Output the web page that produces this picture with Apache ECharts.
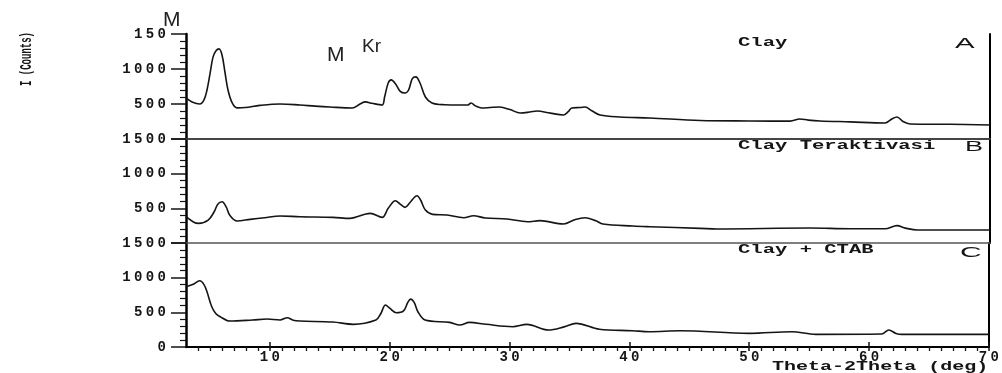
<!DOCTYPE html>
<html><head><meta charset="utf-8">
<script src="https://cdn.jsdelivr.net/npm/echarts@6/dist/echarts.min.js"></script>
<style>html,body{margin:0;padding:0;background:#fff}#c{width:1002px;height:373px}</style>
</head><body><div id="c"></div>
<script>
// 2-theta (deg) / intensity (counts) pairs
const clayA = [[3,586],[3.5,530],[4.15,500],[4.5,560],[4.75,700],[5,930],[5.25,1170],[5.5,1260],[5.75,1287],[6,1200],[6.25,950],[6.5,700],[6.85,515],[7.25,445],[7.95,450],[9.15,480],[10.85,500],[12.5,486],[13.75,470],[15,457],[16.85,443],[17.5,500],[17.95,530],[18.5,510],[19.35,486],[19.55,600],[19.85,800],[20.1,844],[20.45,790],[20.85,680],[21.25,657],[21.55,700],[21.85,860],[22.15,887],[22.5,800],[22.95,600],[23.5,515],[24.55,490],[25.85,486],[26.5,486],[26.75,515],[27.15,470],[27.65,443],[28.35,450],[29.15,457],[30,420],[30.85,372],[31.65,385],[32.25,400],[33.35,370],[34.45,343],[34.85,390],[35.15,443],[35.85,450],[36.25,457],[36.85,400],[37.5,343],[39.15,315],[41.65,300],[45.85,265],[50,258],[53.35,255],[54.15,286],[54.85,270],[55.85,258],[58.35,245],[61.25,229],[61.85,290],[62.25,315],[62.75,250],[63.35,215],[66.65,210],[70,200]];
const clayB = [[3,379],[3.65,300],[4.05,283],[4.85,330],[5.35,451],[5.65,560],[6,595],[6.35,520],[6.65,399],[7.25,317],[8.35,341],[9.55,365],[10.85,389],[12.5,379],[15.25,370],[16.65,355],[18.35,427],[19.35,370],[19.85,500],[20.45,609],[20.85,560],[21.25,514],[21.65,580],[22.25,681],[22.55,620],[22.95,475],[23.55,413],[24.75,403],[26.15,365],[26.95,394],[27.95,360],[29.75,346],[31.45,307],[32.5,322],[34.45,274],[35.45,340],[36.25,365],[37.15,320],[37.75,274],[40.25,245],[41.65,235],[45.85,211],[47.25,202],[55,216],[58.35,205],[61.25,205],[62.25,250],[62.95,215],[63.95,187],[70,187]];
const clayC = [[3,869],[3.55,900],[4.15,955],[4.5,900],[4.75,797],[5.15,581],[5.5,480],[5.85,437],[6.65,374],[8.55,389],[9.75,403],[10.85,390],[11.45,422],[11.95,385],[12.5,374],[15.25,360],[16.95,327],[18.85,389],[19.25,480],[19.65,605],[20,560],[20.55,494],[21.15,520],[21.5,640],[21.75,691],[22.05,640],[22.35,509],[22.95,389],[25,355],[25.85,317],[26.65,355],[28.05,327],[30.25,293],[31.45,327],[33.25,245],[34.55,290],[35.55,341],[37.5,255],[40.25,235],[41.65,221],[44.25,235],[50,197],[53.55,221],[55.55,182],[61.05,187],[61.65,245],[62.25,195],[62.75,182],[70,182]];

const xTicks = [10,20,30,40,50,60,70];
const xMinorTicks = [4,5,6,7,8,9,11,12,13,14,15,16,17,18,19,21,22,23,24,25,26,27,28,29,31,32,33,34,35,36,37,38,39,41,42,43,44,45,46,47,48,49,51,52,53,54,55,56,57,58,59,61,62,63,64,65,66,67,68,69];
const yTicks = [0,500,1000,1500];
const yLabelsA = ['','500','1000','150'];
const yLabelsB = ['','500','1000','1500'];
const yLabelsC = ['0','500','1000','1500'];
const panelNames = ['Clay','Clay Teraktivasi','Clay + CTAB'];
const panelLetters = ['A','B','C'];

const chart = echarts.init(document.getElementById('c'), null, {renderer:'canvas'});
const ink = '#151515';
const spaced = s => String(s).split('').map(ch => '{c|' + ch + '}').join('');
const richC = {c:{width:11.8, fontSize:14, fontWeight:'bold', fontFamily:'"Liberation Mono", monospace', color:ink}};

const xBase = {type:'value', min:3, max:70, splitLine:{show:false}, axisTick:{show:false}, axisLabel:{show:false}};
function sepAxis(grid, pos, color, width){
  return Object.assign({}, xBase, {gridIndex:grid, position:pos, axisLine:{show:true, lineStyle:{color:color, width:width}}});
}
function yLeft(grid, labels){
  return {type:'value', gridIndex:grid, position:'left', min:0, max:1500, interval:500,
    splitLine:{show:false},
    axisLine:{show:true, lineStyle:{color:'#000', width:2.5}},
    axisTick:{show:true, length:15, lineStyle:{color:ink, width:1.5}},
    minorTick:{show:true, splitNumber:5, length:6, lineStyle:{color:ink, width:1.2}},
    axisLabel:{show:true, margin:20, rich:richC,
      formatter: v => { const i = yTicks.indexOf(v); return i < 0 ? '' : spaced(labels[i]); }}};
}
function yRight(grid){
  return {type:'value', gridIndex:grid, position:'right', min:0, max:1500,
    splitLine:{show:false}, axisTick:{show:false}, axisLabel:{show:false},
    axisLine:{show:true, lineStyle:{color:'#000', width:2}}};
}
function gtext(txt, x, y, font, sx, fill){
  return {type:'text', x:x, y:y, scaleX:sx||1, z:50,
    style:{text:txt, font:font, fill:fill||ink, textAlign:'left', textVerticalAlign:'middle'}};
}
const mono = 'bold 13px "Liberation Mono", monospace';
const sans = n => n + 'px "Liberation Sans", sans-serif';

chart.setOption({
  animation:false,
  backgroundColor:'#fff',
  grid:[
    {left:186, right:12, top:34, height:105},
    {left:186, right:12, top:139, height:104},
    {left:186, right:12, top:243, height:104}
  ],
  xAxis:[
    sepAxis(0,'bottom','#555',1.5),
    sepAxis(0,'top','#333',1.5),
    sepAxis(1,'bottom','#555',1.5),
    Object.assign({}, xBase, {gridIndex:2, position:'bottom',
      axisLine:{show:true, lineStyle:{color:'#000', width:2}},
      axisTick:{show:true, length:4, customValues:xTicks, lineStyle:{color:ink, width:1.5}},
      axisLabel:{show:true, margin:3, customValues:xTicks, rich:richC, formatter: v => spaced(v)}}),
    Object.assign({}, xBase, {gridIndex:2, position:'bottom',
      axisLine:{show:false},
      axisTick:{show:true, length:4, customValues:xMinorTicks, lineStyle:{color:ink, width:1.3}}}),
    Object.assign({}, xBase, {gridIndex:2, position:'bottom',
      axisLine:{show:false},
      axisTick:{show:true, inside:true, length:5, customValues:xTicks, lineStyle:{color:ink, width:1.5}}})
  ],
  yAxis:[yLeft(0,yLabelsA), yRight(0), yLeft(1,yLabelsB), yRight(1), yLeft(2,yLabelsC), yRight(2)],
  series:[
    {type:'line', name:panelNames[0], xAxisIndex:0, yAxisIndex:0, data:clayA, showSymbol:false, smooth:0.35, lineStyle:{color:ink, width:1.6}},
    {type:'line', name:panelNames[1], xAxisIndex:2, yAxisIndex:2, data:clayB, showSymbol:false, smooth:0.35, lineStyle:{color:ink, width:1.6}},
    {type:'line', name:panelNames[2], xAxisIndex:3, yAxisIndex:4, data:clayC, showSymbol:false, smooth:0.35, lineStyle:{color:ink, width:1.6}}
  ],
  graphic:[
    {type:'rect', shape:{x:307, y:29, width:96, height:10}, style:{fill:'#fff'}, z:40},
    gtext(panelNames[0], 738, 42.5, mono, 1.58),
    gtext(panelNames[1], 738, 145.5, mono, 1.58),
    gtext(panelNames[2], 738, 250, mono, 1.58),
    gtext(panelLetters[0], 955, 44.5, sans(14), 2.1),
    gtext(panelLetters[1], 965, 147.5, sans(14), 1.93),
    gtext(panelLetters[2], 960, 252.5, sans(15), 2.0),
    gtext('Theta-2Theta (deg)', 772, 367, mono, 1.54),
    {type:'text', x:27, y:59, rotation:Math.PI/2, scaleY:1.9, z:50,
      style:{text:'I (Counts)', font:'bold 9px "Liberation Mono", monospace', fill:ink, textAlign:'center', textVerticalAlign:'middle'}},
    gtext('M', 163, 20.5, sans(21), 1, '#222'),
    gtext('M', 327, 55.5, sans(21), 1, '#222'),
    gtext('Kr', 362, 46.5, sans(19), 1, '#222')
  ]
});
</script></body></html>
